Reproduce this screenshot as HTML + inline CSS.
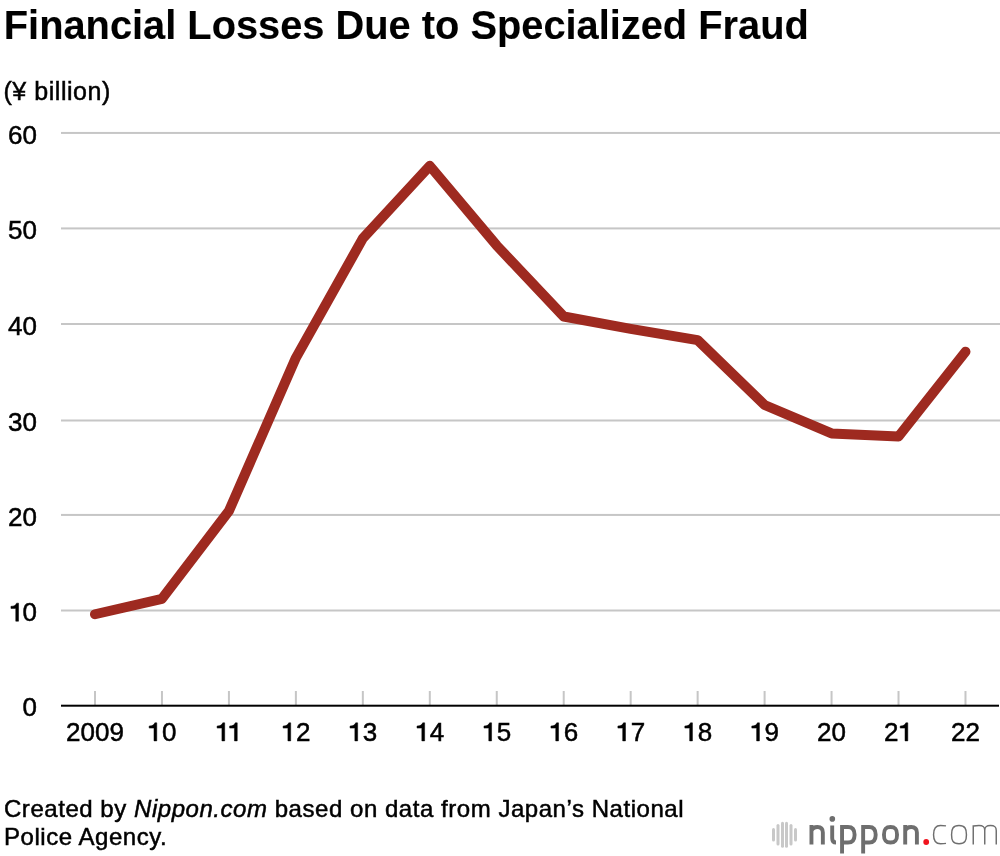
<!DOCTYPE html>
<html><head><meta charset="utf-8">
<style>
html,body{margin:0;padding:0;background:#fff;}
body{width:1000px;height:856px;position:relative;overflow:hidden;font-family:"Liberation Sans",sans-serif;}
svg{position:absolute;left:0;top:0;will-change:transform;}
text{font-family:"Liberation Sans",sans-serif;stroke:#000;stroke-width:0.5px;}
.o1{fill:none;stroke:none;}
</style></head><body>
<svg width="1000" height="856" viewBox="0 0 1000 856">
<text x="3.8" y="39" font-size="39.8" font-weight="bold" style="stroke-width:0.1px" letter-spacing="0">Financial Losses Due to Specialized Fraud</text>
<text x="3.5" y="99.9" font-size="25" letter-spacing="0.54">(¥ billion)</text>
<g fill="#c6c6c6"><rect x="61" y="131.94" width="939" height="2"/><rect x="61" y="227.41" width="939" height="2"/><rect x="61" y="323.00" width="939" height="2"/><rect x="61" y="419.50" width="939" height="2"/><rect x="61" y="513.93" width="939" height="2"/><rect x="61" y="609.51" width="939" height="2"/><rect x="94.00" y="691" width="2" height="14.70"/><rect x="160.96" y="691" width="2" height="14.70"/><rect x="227.92" y="691" width="2" height="14.70"/><rect x="294.88" y="691" width="2" height="14.70"/><rect x="361.84" y="691" width="2" height="14.70"/><rect x="428.80" y="691" width="2" height="14.70"/><rect x="495.76" y="691" width="2" height="14.70"/><rect x="562.72" y="691" width="2" height="14.70"/><rect x="629.68" y="691" width="2" height="14.70"/><rect x="696.64" y="691" width="2" height="14.70"/><rect x="763.60" y="691" width="2" height="14.70"/><rect x="830.56" y="691" width="2" height="14.70"/><rect x="897.52" y="691" width="2" height="14.70"/><rect x="964.48" y="691" width="2" height="14.70"/></g>
<rect x="61" y="704.70" width="938" height="2" fill="#000"/>
<g font-size="26" text-anchor="end"><text x="37" y="143.64">60</text><text x="37" y="239.11">50</text><text x="37" y="334.70">40</text><text x="37" y="431.20">30</text><text x="37" y="525.63">20</text><text x="37" y="621.21"><tspan class="o1">1</tspan>0</text><text x="37" y="716.40">0</text></g>
<g font-size="26" text-anchor="middle"><text x="95.00" y="740.9">2009</text><text x="161.96" y="740.9"><tspan class="o1">1</tspan>0</text><text x="228.92" y="740.9"><tspan class="o1">1</tspan><tspan class="o1">1</tspan></text><text x="295.88" y="740.9"><tspan class="o1">1</tspan>2</text><text x="362.84" y="740.9"><tspan class="o1">1</tspan>3</text><text x="429.80" y="740.9"><tspan class="o1">1</tspan>4</text><text x="496.76" y="740.9"><tspan class="o1">1</tspan>5</text><text x="563.72" y="740.9"><tspan class="o1">1</tspan>6</text><text x="630.68" y="740.9"><tspan class="o1">1</tspan>7</text><text x="697.64" y="740.9"><tspan class="o1">1</tspan>8</text><text x="764.60" y="740.9"><tspan class="o1">1</tspan>9</text><text x="831.56" y="740.9">20</text><text x="898.52" y="740.9">2<tspan class="o1">1</tspan></text><text x="965.48" y="740.9">22</text></g>
<g fill="#000" stroke="#000" stroke-width="19.23"><path transform="translate(9.26,621.21) scale(0.0260,-0.0260)" d="M250 0H357V695H282C258 622 190 572 65 572V492H250Z"/> <path transform="translate(147.49,740.90) scale(0.0260,-0.0260)" d="M250 0H357V695H282C258 622 190 572 65 572V492H250Z"/> <path transform="translate(215.42,740.90) scale(0.0260,-0.0260)" d="M250 0H357V695H282C258 622 190 572 65 572V492H250Z"/> <path transform="translate(227.95,740.90) scale(0.0260,-0.0260)" d="M250 0H357V695H282C258 622 190 572 65 572V492H250Z"/> <path transform="translate(281.41,740.90) scale(0.0260,-0.0260)" d="M250 0H357V695H282C258 622 190 572 65 572V492H250Z"/> <path transform="translate(348.37,740.90) scale(0.0260,-0.0260)" d="M250 0H357V695H282C258 622 190 572 65 572V492H250Z"/> <path transform="translate(415.33,740.90) scale(0.0260,-0.0260)" d="M250 0H357V695H282C258 622 190 572 65 572V492H250Z"/> <path transform="translate(482.29,740.90) scale(0.0260,-0.0260)" d="M250 0H357V695H282C258 622 190 572 65 572V492H250Z"/> <path transform="translate(549.25,740.90) scale(0.0260,-0.0260)" d="M250 0H357V695H282C258 622 190 572 65 572V492H250Z"/> <path transform="translate(616.21,740.90) scale(0.0260,-0.0260)" d="M250 0H357V695H282C258 622 190 572 65 572V492H250Z"/> <path transform="translate(683.17,740.90) scale(0.0260,-0.0260)" d="M250 0H357V695H282C258 622 190 572 65 572V492H250Z"/> <path transform="translate(750.13,740.90) scale(0.0260,-0.0260)" d="M250 0H357V695H282C258 622 190 572 65 572V492H250Z"/> <path transform="translate(898.52,740.90) scale(0.0260,-0.0260)" d="M250 0H357V695H282C258 622 190 572 65 572V492H250Z"/></g>
<polyline fill="none" stroke="#9e2a20" stroke-width="10" stroke-linecap="round" stroke-linejoin="round" points="95.00,614.25 161.96,598.78 228.92,510.96 295.88,357.84 362.84,238.42 429.80,165.87 496.76,245.58 563.72,316.51 630.68,328.92 697.64,340.18 764.60,405.00 831.56,433.45 898.52,436.50 965.48,351.73"/>
<g font-size="24" letter-spacing="0.54">
<text x="4" y="817">Created by <tspan font-style="italic">Nippon.com</tspan> based on data from Japan’s National</text>
<text x="4" y="845">Police Agency.</text>
</g>
<g stroke="#c8c8c8" stroke-width="3" stroke-linecap="round" fill="none">
<line x1="773.5" y1="829.5" x2="773.5" y2="840"/>
<line x1="778" y1="825.5" x2="778" y2="844"/>
<line x1="782.5" y1="823.3" x2="782.5" y2="846.3"/>
<line x1="786.5" y1="823.3" x2="786.5" y2="846.3"/>
<line x1="791" y1="825.5" x2="791" y2="844"/>
<line x1="795.5" y1="829.5" x2="795.5" y2="840"/>
</g>
<g stroke="#6e6e6e" stroke-width="3.9" fill="none">
<path d="M811.45 844.5 V825 M811.45 831 C812.3 828.2 814 826.95 817.5 826.95 C821.5 826.95 822.85 828.8 822.85 832.5 V844.5"/>
<path d="M832.2 825.5 V838.2 Q832.2 842.55 836 842.55"/>
<path d="M842.05 853.5 V825 M842.05 826.95 H848 C852.6 826.95 854.6 829.5 854.6 834.75 C854.6 840 852.6 842.55 848 842.55 H842.05"/>
<path d="M863.15 853.5 V825 M863.15 826.95 H869.1 C873.7 826.95 875.7 829.5 875.7 834.75 C875.7 840 873.7 842.55 869.1 842.55 H863.15"/>
<path d="M890.5 826.95 C884.9 826.95 883.95 830 883.95 834.75 C883.95 839.5 884.9 842.55 890.5 842.55 C896.1 842.55 897.05 839.5 897.05 834.75 C897.05 830 896.1 826.95 890.5 826.95 Z"/>
<path d="M905.2 844.5 V825 M905.2 831 C906 828.2 907.7 826.95 911.2 826.95 C915.4 826.95 916.9 828.8 916.9 832.5 V844.5"/>
</g>
<circle cx="832.3" cy="818.9" r="2.8" fill="#6e6e6e"/>
<circle cx="926.2" cy="842" r="2.9" fill="#f0141e"/>
<g stroke="#6e6e6e" stroke-width="1.45" fill="none">
<path d="M946 825.9 C944 825.55 942 825.55 940.5 825.55 C935 825.55 933.55 829 933.55 834.65 C933.55 840.3 935 843.75 940.5 843.75 C942 843.75 944 843.75 946 843.4"/>
<path d="M959 825.55 C952.8 825.55 951.55 829 951.55 834.65 C951.55 840.3 952.8 843.75 959 843.75 C965.2 843.75 966.45 840.3 966.45 834.65 C966.45 829 965.2 825.55 959 825.55 Z"/>
<path d="M973.25 844.5 V825.3 M973.25 826 C975 825.55 977 825.55 979 825.55 C983.5 825.55 984.75 826.8 984.75 830.5 V844.5 M984.75 830.5 C984.75 826.8 986 825.55 990.5 825.55 C995 825.55 996.25 826.8 996.25 830.5 V844.5"/>
</g>

</svg>
</body></html>
